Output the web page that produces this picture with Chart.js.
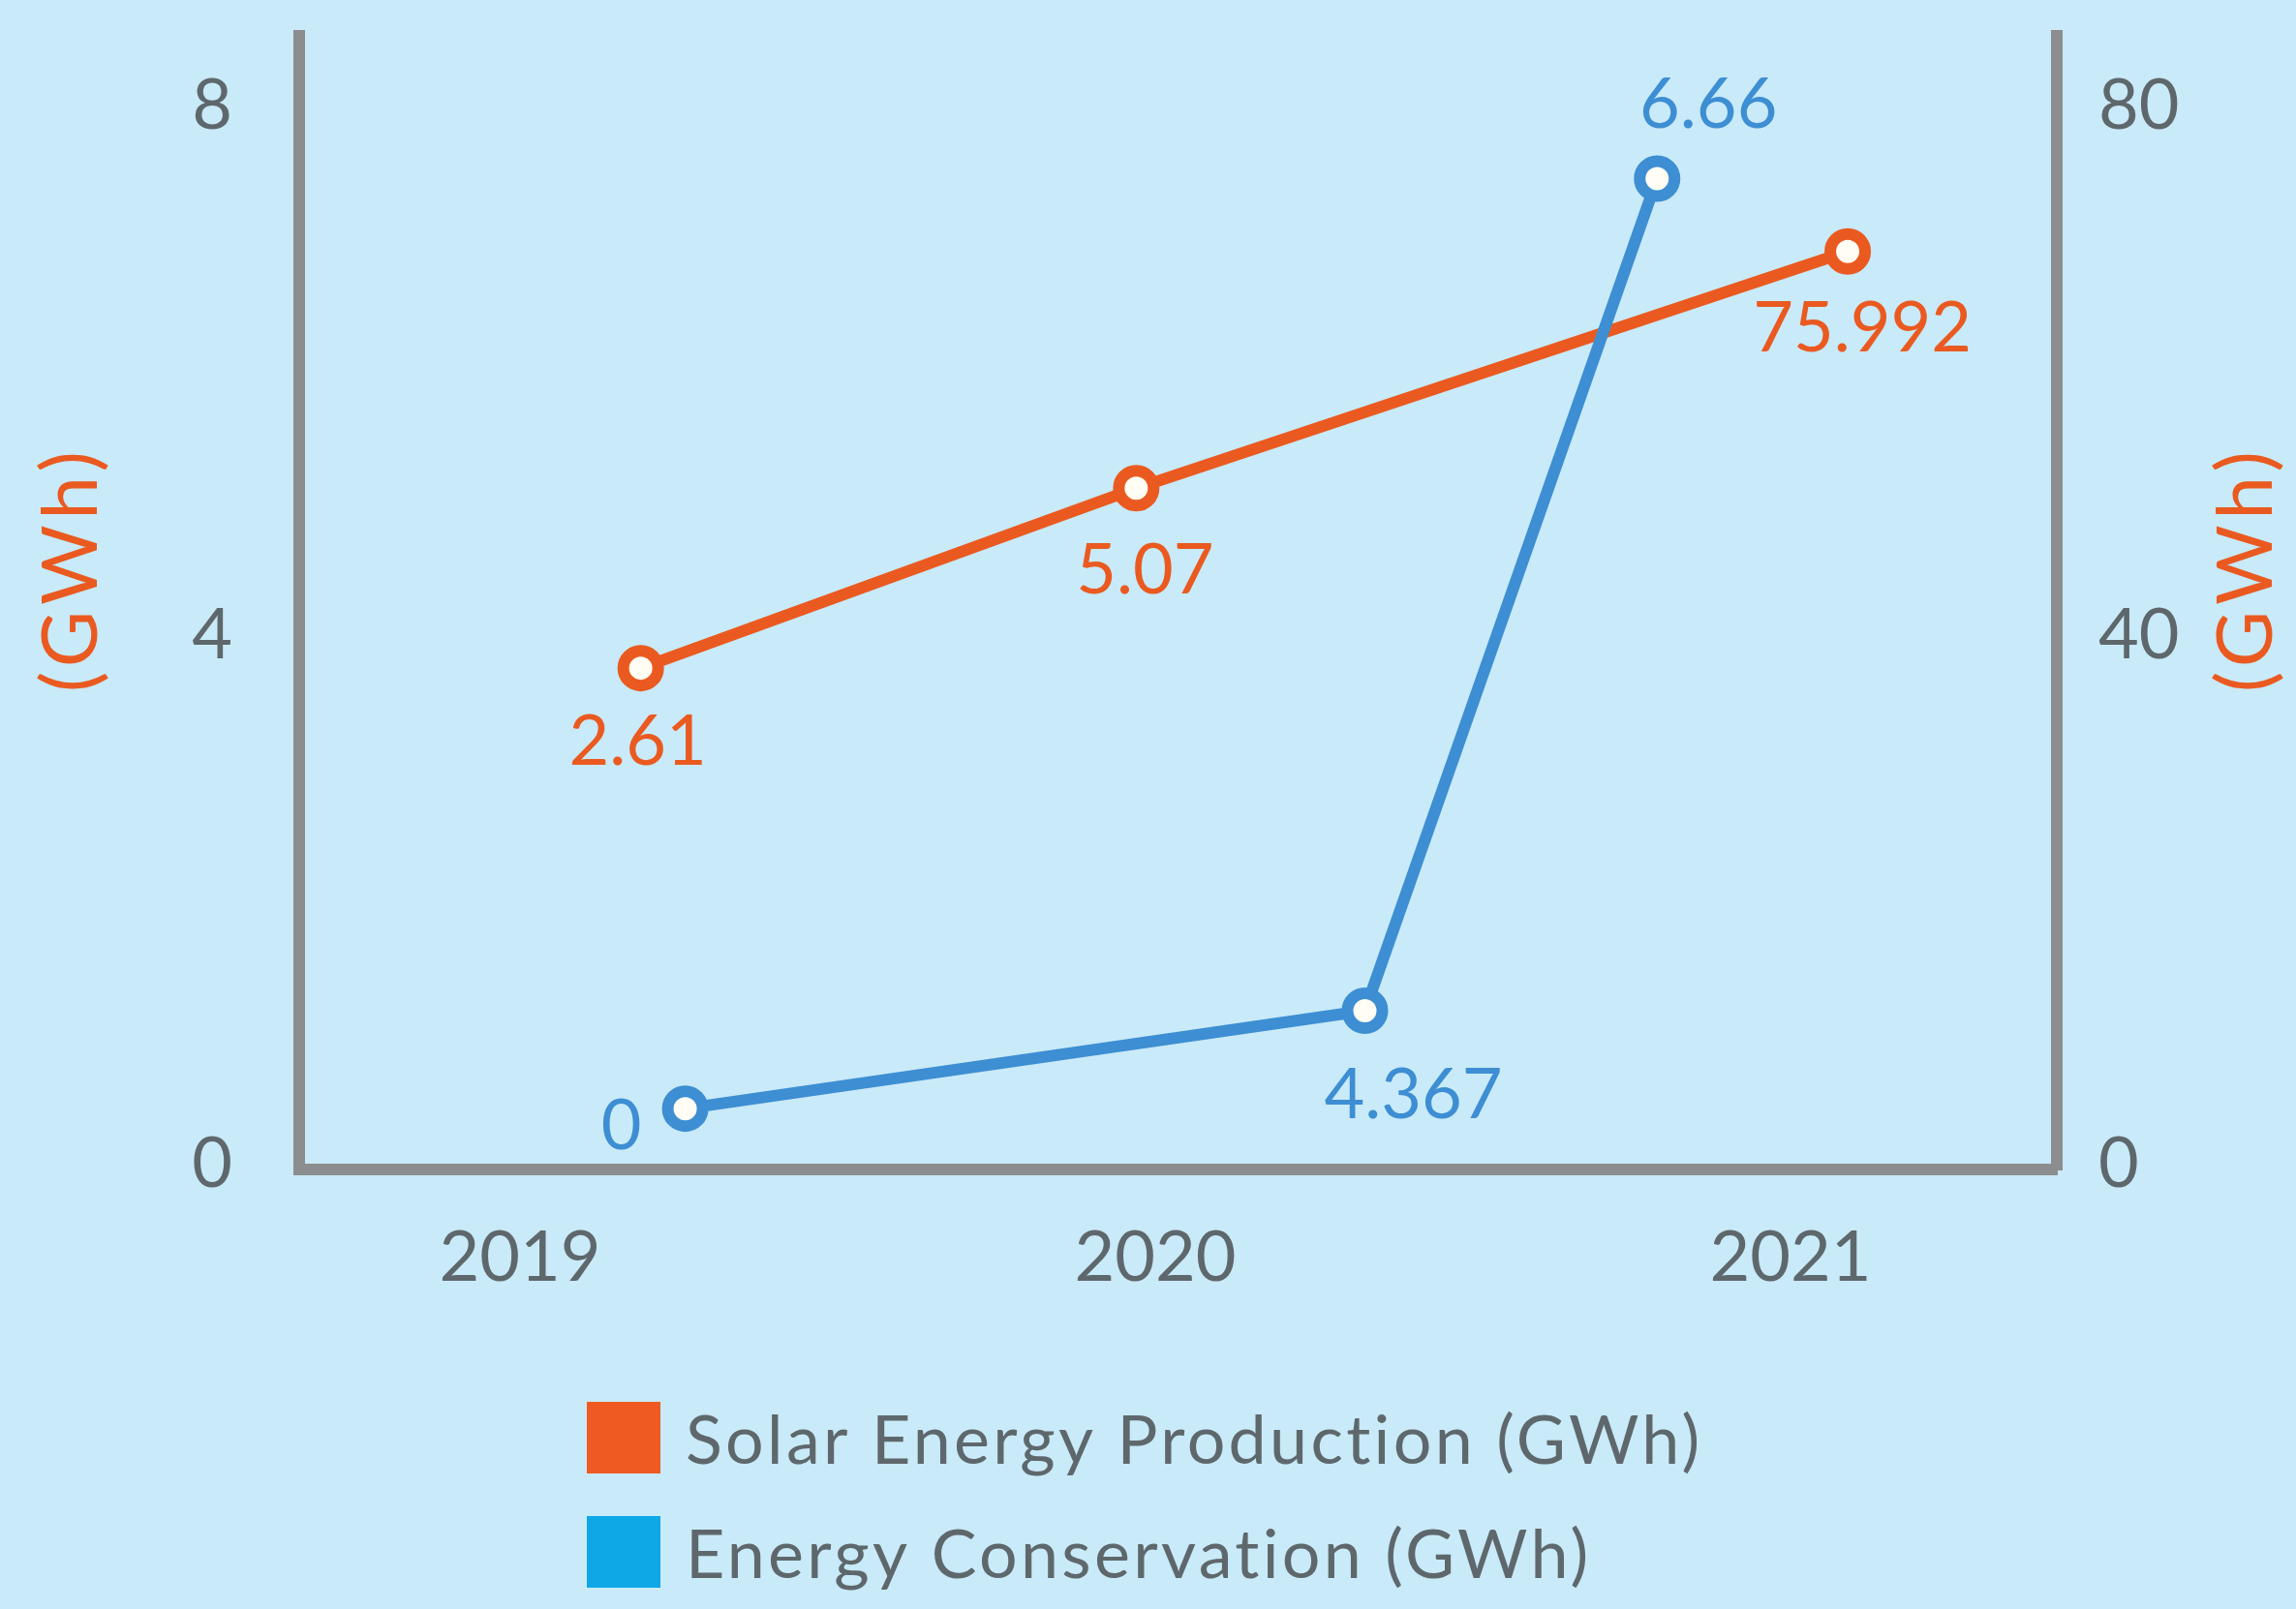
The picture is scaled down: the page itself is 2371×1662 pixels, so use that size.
<!DOCTYPE html>
<html>
<head>
<meta charset="utf-8">
<script src="https://cdn.jsdelivr.net/npm/chart.js@4.4.0/dist/chart.umd.min.js"></script>
<style>
  html, body { margin: 0; padding: 0; background: #c9eaf8; }
  canvas { display: block; }
</style>
</head>
<body>
<canvas id="chart" width="2371" height="1662"></canvas>
<script>
// data (x in years, y in left-axis units)
const years = [2019, 2020, 2021];
const solarX = [2019.19, 2019.97, 2021.09];
const solarY = [3.79, 5.15, 6.94];
const solarLabels = ['2.61', '5.07', '75.992'];
const consX = [2019.26, 2020.33, 2020.79];
const consY = [0.46, 1.20, 7.49];
const consLabels = ['0', '4.367', '6.66'];
const leftTicks = [0, 4, 8];
const rightTicks = [0, 40, 80];
const seriesNames = ['Solar Energy Production (GWh)', 'Energy Conservation (GWh)'];
const axisTitle = '(GWh)';

// styling
const FONT = 'Lato';
const orange = '#ea5a20';
const blue = '#3d8ed3';
const legendColors = ['#ee5a22', '#0fa8e6'];
const axisGray = '#8c8d8e';
const textGray = '#5e686c';
const labelOffsets = [
  [[-3, 77], [9, 85], [15, 80]],
  [[-66, 19], [50, 88], [53, -76]]
];

function pts(xs, ys) {
  return xs.map((x, i) => ({ x: x, y: ys[i] }));
}

const extras = {
  id: 'extras',
  afterDatasetsDraw(chart) {
    const ctx = chart.ctx;
    const texts = [solarLabels, consLabels];
    const cols = [orange, blue];
    ctx.save();
    ctx.font = '72px ' + FONT;
    ctx.textAlign = 'center';
    ctx.textBaseline = 'middle';
    chart.data.datasets.forEach((ds, i) => {
      const meta = chart.getDatasetMeta(i);
      ctx.fillStyle = cols[i];
      meta.data.forEach((p, j) => {
        const off = labelOffsets[i][j];
        ctx.fillText(texts[i][j], p.x + off[0], p.y + off[1]);
      });
    });
    ctx.restore();
  },
  afterDraw(chart) {
    const ctx = chart.ctx;
    const area = chart.chartArea;
    ctx.save();
    // axis titles, both reading bottom to top
    ctx.font = '80px ' + FONT;
    ctx.letterSpacing = '6px';
    ctx.fillStyle = orange;
    ctx.textAlign = 'center';
    ctx.textBaseline = 'middle';
    const midY = (area.top + area.bottom) / 2 - 35;
    [74, 2320].forEach(x => {
      ctx.save();
      ctx.translate(x, midY);
      ctx.rotate(-Math.PI / 2);
      ctx.fillText(axisTitle, 0, 0);
      ctx.restore();
    });
    // legend
    ctx.font = '70px ' + FONT;
    ctx.letterSpacing = '3.3px';
    ctx.textAlign = 'left';
    const boxX = 606, rowY = [area.bottom + 277, area.bottom + 395];
    seriesNames.forEach((name, i) => {
      ctx.fillStyle = legendColors[i];
      ctx.fillRect(boxX, rowY[i] - 37, 76, 74);
      ctx.fillStyle = textGray;
      ctx.fillText(name, boxX + 102, rowY[i] + 4);
    });
    ctx.restore();
  }
};

const tickFont = { family: FONT, size: 72 };

new Chart(document.getElementById('chart'), {
  type: 'line',
  data: {
    datasets: [{
      label: seriesNames[0],
      data: pts(solarX, solarY),
      borderColor: orange,
      borderWidth: 12,
      pointRadius: 18,
      pointBorderWidth: 12,
      pointBackgroundColor: '#fffdf4',
      pointBorderColor: orange,
      order: 2,
      yAxisID: 'y'
    }, {
      label: seriesNames[1],
      data: pts(consX, consY),
      borderColor: blue,
      borderWidth: 12,
      pointRadius: 18,
      pointBorderWidth: 12,
      pointBackgroundColor: '#fffdf4',
      pointBorderColor: blue,
      order: 1,
      yAxisID: 'y'
    }]
  },
  options: {
    responsive: false,
    animation: false,
    devicePixelRatio: 1,
    layout: { padding: { top: 37, left: 0, right: 0, bottom: 0 } },
    plugins: {
      legend: { display: false },
      tooltip: { enabled: false }
    },
    scales: {
      x: {
        type: 'linear',
        min: 2018.6524,
        max: 2021.4192,
        afterBuildTicks: s => { s.ticks = years.map(v => ({ value: v })); },
        ticks: { callback: v => String(v), font: tickFont, color: textGray, padding: 49 },
        grid: { display: false, drawTicks: false },
        border: { display: true, color: axisGray, width: 12 },
        afterFit: s => { s.height = 454; s.paddingLeft = 0; s.paddingRight = 0; }
      },
      y: {
        position: 'left',
        min: 0,
        max: 8.57,
        afterBuildTicks: s => { s.ticks = leftTicks.map(v => ({ value: v })); },
        ticks: { font: tickFont, color: textGray, padding: 69, labelOffset: -5 },
        grid: { display: false, drawTicks: false },
        border: { display: true, color: axisGray, width: 12 },
        afterFit: s => { s.width = 309; s.paddingTop = 0; s.paddingBottom = 0; }
      },
      y2: {
        position: 'right',
        min: 0,
        max: 85.7,
        afterBuildTicks: s => { s.ticks = rightTicks.map(v => ({ value: v })); },
        ticks: { font: tickFont, color: textGray, padding: 43, labelOffset: -5 },
        grid: { display: false, drawTicks: false },
        border: { display: true, color: axisGray, width: 12 },
        afterFit: s => { s.width = 247; s.paddingTop = 0; s.paddingBottom = 0; }
      }
    }
  },
  plugins: [extras]
});
</script>
</body>
</html>
